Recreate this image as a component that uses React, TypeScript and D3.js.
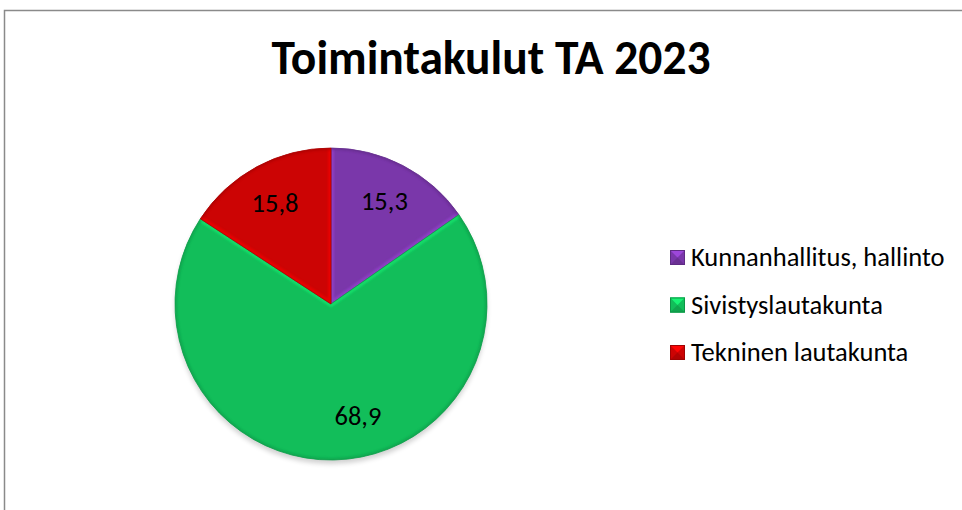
import { useEffect, useRef } from 'react';
import * as d3 from 'd3';

// chart data
const categories = ['Kunnanhallitus, hallinto', 'Sivistyslautakunta', 'Tekninen lautakunta'];
const values = [15.3, 68.9, 15.8];
const colors = ['#7a37aa', '#12be5a', '#cc0404'];
const title = 'Toimintakulut TA 2023';

const W = 962;
const H = 510;

const App = () => {
  const svgRef = useRef<SVGSVGElement | null>(null);

  useEffect(() => {
    document.body.style.margin = '0';
    const svg = d3.select(svgRef.current);
    svg.selectAll('*').remove();

    const font = "Carlito, Calibri, Lato, 'Open Sans', sans-serif";

    svg.append('rect')
      .attr('width', W).attr('height', H).attr('fill', '#fff');

    // outer frame
    svg.append('rect')
      .attr('x', 4.5).attr('y', 10.5)
      .attr('width', W + 10).attr('height', H + 10)
      .attr('fill', 'none')
      .attr('stroke', '#8a8a8a')
      .attr('stroke-width', 1.5);

    svg.append('text')
      .attr('x', 491).attr('y', 74)
      .attr('text-anchor', 'middle')
      .attr('font-family', font)
      .attr('font-weight', 'bold')
      .attr('font-size', 47.5)
      .attr('fill', '#000')
      .text(title);

    const cx = 331, cy = 304, r = 156;
    const defs = svg.append('defs');

    defs.append('filter').attr('id', 'soft')
      .attr('x', '-20%').attr('y', '-20%').attr('width', '140%').attr('height', '140%')
      .append('feGaussianBlur').attr('stdDeviation', 2.5);
    defs.append('filter').attr('id', 'soft1')
      .append('feGaussianBlur').attr('stdDeviation', 1.2);

    const pie = d3.pie<number>().sort(null).value(d => d);
    const arcs = pie(values);
    const arc = d3.arc<d3.PieArcDatum<number>>().innerRadius(0).outerRadius(r);
    const rim = d3.arc<d3.PieArcDatum<number>>().innerRadius(r - 2).outerRadius(r + 3);

    const g = svg.append('g').attr('transform', `translate(${cx},${cy})`);

    // soft shadow under the pie
    g.append('circle')
      .attr('cx', 0).attr('cy', 4).attr('r', r)
      .attr('fill', '#000')
      .attr('opacity', 0.18)
      .attr('filter', 'url(#soft)');

    arcs.forEach((d, i) => {
      defs.append('clipPath').attr('id', `clip${i}`)
        .append('path').attr('d', arc(d)!);
    });

    const slices = g.selectAll('g.slice')
      .data(arcs)
      .enter()
      .append('g')
      .attr('class', 'slice');

    slices.append('path')
      .attr('d', arc)
      .attr('fill', (d, i) => colors[i]);

    // bevel: light along radial edges, darker rim at the outer edge
    slices.append('g')
      .attr('clip-path', (d, i) => `url(#clip${i})`)
      .each(function (d, i) {
        const sel = d3.select(this);
        const p0 = [Math.sin(d.startAngle) * r, -Math.cos(d.startAngle) * r];
        const p1 = [Math.sin(d.endAngle) * r, -Math.cos(d.endAngle) * r];
        sel.append('path')
          .attr('d', `M${p0[0]},${p0[1]}L0,0L${p1[0]},${p1[1]}`)
          .attr('fill', 'none')
          .attr('stroke', d3.color(colors[i])!.brighter(0.7).formatHex())
          .attr('stroke-width', 6)
          .attr('opacity', 0.55)
          .attr('filter', 'url(#soft1)');
        sel.append('path')
          .attr('d', rim(d)!)
          .attr('fill', d3.color(colors[i])!.darker(0.6).formatHex())
          .attr('opacity', 0.6)
          .attr('filter', 'url(#soft1)');
      });

    slices.append('path')
      .attr('d', arc)
      .attr('fill', 'none')
      .attr('stroke', (d, i) => d3.color(colors[i])!.darker(0.5).formatHex())
      .attr('stroke-width', 0.8);

    // data labels
    const labelR = 0.74;
    const labelShift = [0, -0.22, -0.01];
    g.selectAll('text.lbl')
      .data(arcs)
      .enter()
      .append('text')
      .attr('class', 'lbl')
      .attr('x', (d, i) => Math.sin((d.startAngle + d.endAngle) / 2 + labelShift[i]) * r * labelR)
      .attr('y', (d, i) => -Math.cos((d.startAngle + d.endAngle) / 2 + labelShift[i]) * r * labelR)
      .attr('dy', '0.33em')
      .attr('text-anchor', 'middle')
      .attr('font-family', font)
      .attr('font-size', 26.5)
      .attr('fill', '#000')
      .text(d => d3.format('.1f')(d.data).replace('.', ','));

    // legend
    const legend = svg.append('g').attr('transform', 'translate(670,257.5)');
    const s = 15;
    categories.forEach((name, i) => {
      const row = legend.append('g').attr('transform', `translate(0,${i * 47.5})`);
      const c = d3.color(colors[i])!;
      const y0 = -s / 2;
      row.append('rect')
        .attr('x', 0).attr('y', y0).attr('width', s).attr('height', s)
        .attr('fill', colors[i]);
      // pyramid facets
      row.append('path')
        .attr('d', `M0,${y0}L${s},${y0}L${s / 2},${y0 + s / 2}Z`)
        .attr('fill', c.brighter(0.7).formatHex());
      row.append('path')
        .attr('d', `M0,${y0 + s}L${s},${y0 + s}L${s / 2},${y0 + s / 2}Z`)
        .attr('fill', c.darker(0.4).formatHex());
      row.append('rect')
        .attr('x', 0.5).attr('y', y0 + 0.5).attr('width', s - 1).attr('height', s - 1)
        .attr('fill', 'none')
        .attr('stroke', c.darker(0.7).formatHex())
        .attr('stroke-width', 1);
      row.append('text')
        .attr('x', 21).attr('y', 0)
        .attr('dy', '0.33em')
        .attr('font-family', font)
        .attr('font-size', 26.5)
        .attr('fill', '#000')
        .text(name);
    });
  }, []);

  return <svg ref={svgRef} width={W} height={H} style={{ display: 'block' }} />;
};

export default App;
